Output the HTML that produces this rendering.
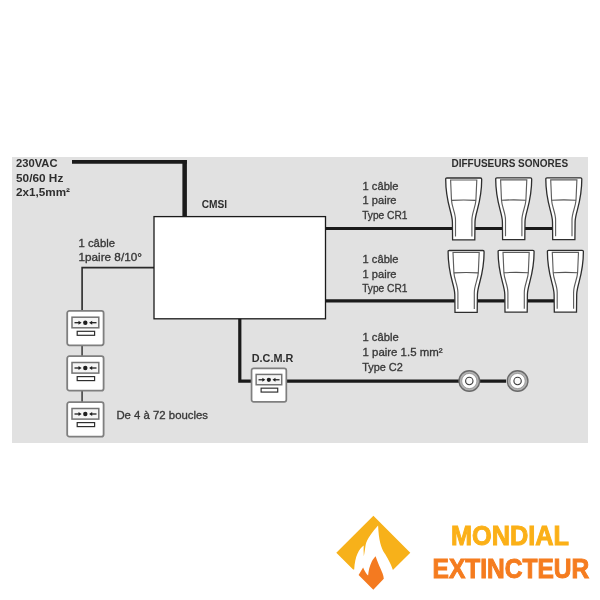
<!DOCTYPE html>
<html><head><meta charset="utf-8">
<style>
html,body{margin:0;padding:0;background:#fff;width:600px;height:600px;overflow:hidden}
svg{display:block;will-change:transform}
text{font-family:"Liberation Sans",sans-serif}
.b{font-weight:bold;font-size:11.8px;fill:#2e2e2e}
.r{font-size:11px;fill:#383838;stroke:#383838;stroke-width:0.32px}
.lg{font-weight:bold;font-size:27.5px}
</style></head><body>
<svg width="600" height="600" viewBox="0 0 600 600">
<defs>
  <g id="spk">
    <path d="M-16.8,0 L16.8,0 Q18,0 18,1.2 C18,25 11.5,34 11.3,44 L11.1,61.8 L-11.1,61.8 L-11.3,44 C-11.5,34 -18,25 -18,1.2 Q-18,0 -16.8,0 Z" fill="#fff" stroke="#2e2e2e" stroke-width="1.3"/>
    <path d="M-8.2,58.4 L-8.2,42 C-8.2,35 -11.8,29 -12.2,22.4 L-13.1,2 L13.1,2 L12.2,22.4 C11.8,29 8.2,35 8.2,42 L8.2,58.4" fill="none" stroke="#5e5e5e" stroke-width="1.15"/>
    <path d="M-12.2,22.4 Q0,21.5 12.2,22.4" fill="none" stroke="#555" stroke-width="1.1"/>
  </g>
  <g id="dev">
    <rect x="0.9" y="0.9" width="36.4" height="34.4" rx="2.2" fill="#fff" stroke="#7f7f7f" stroke-width="1.8"/>
    <rect x="5.7" y="7.2" width="26.8" height="10.6" fill="#f5f5f5" stroke="#737373" stroke-width="1.5"/>
    <line x1="8.2" y1="12.7" x2="13.5" y2="12.7" stroke="#1e1e1e" stroke-width="1.3"/>
    <path d="M15.3,12.7 L12.2,10.7 L12.2,14.7 Z" fill="#1e1e1e"/>
    <circle cx="19" cy="12.7" r="2.2" fill="#1e1e1e"/>
    <line x1="24.6" y1="12.7" x2="30.2" y2="12.7" stroke="#1e1e1e" stroke-width="1.3"/>
    <path d="M22.8,12.7 L25.9,10.7 L25.9,14.7 Z" fill="#1e1e1e"/>
    <rect x="10.9" y="21.3" width="17.4" height="4" fill="#fff" stroke="#2e2e2e" stroke-width="1.2"/>
  </g>
  <g id="ring">
    <circle r="10.3" fill="#b2b2b2" stroke="#6a6a6a" stroke-width="1.4"/>
    <circle r="7.6" fill="#fff" stroke="#8a8a8a" stroke-width="0.7"/>
    <circle r="3.7" fill="#fafafa" stroke="#3c3c3c" stroke-width="1.1"/>
  </g>
</defs>

<!-- gray background -->
<rect x="12" y="157" width="576" height="286" fill="#e1e1e1"/>

<!-- thick power line -->
<path d="M72,161.9 L186.8,161.9" fill="none" stroke="#1a1a1a" stroke-width="3.6"/>
<rect x="182.4" y="160.1" width="4.5" height="56.5" fill="#1a1a1a"/>

<!-- loop line -->
<path d="M82.1,310 L82.1,267.6 L154,267.6" fill="none" stroke="#2a2a2a" stroke-width="1.6"/>
<line x1="82.1" y1="345" x2="82.1" y2="356" stroke="#555" stroke-width="1.8"/>
<line x1="82.1" y1="390" x2="82.1" y2="402" stroke="#555" stroke-width="1.8"/>

<!-- speaker lines -->
<line x1="326" y1="228.5" x2="552" y2="228.5" stroke="#1a1a1a" stroke-width="3.2"/>
<line x1="326" y1="300.9" x2="554" y2="300.9" stroke="#1a1a1a" stroke-width="3.2"/>

<!-- DCMR line -->
<path d="M239.8,318 L239.8,381.1 L506,381.1" fill="none" stroke="#1a1a1a" stroke-width="3.2"/>

<!-- CMSI box -->
<rect x="154" y="216.6" width="171.5" height="102.2" fill="#fff" stroke="#1a1a1a" stroke-width="1.3"/>

<!-- speakers -->
<use href="#spk" x="463.7" y="178"/>
<use href="#spk" x="513.7" y="177.9"/>
<use href="#spk" x="563.8" y="177.9"/>
<use href="#spk" x="466.1" y="250.5"/>
<use href="#spk" x="516.1" y="250.4"/>
<use href="#spk" x="565.4" y="250.4"/>

<!-- devices -->
<use href="#dev" x="66.3" y="310"/>
<use href="#dev" x="66.3" y="355.3"/>
<use href="#dev" x="66.3" y="401.3"/>
<use href="#dev" transform="translate(250.7,367.4) scale(0.955,0.975)"/>

<!-- rings -->
<use href="#ring" x="469.3" y="381"/>
<use href="#ring" x="517.6" y="381"/>

<!-- texts -->
<text class="b" x="16" y="166.7" textLength="41.5" lengthAdjust="spacingAndGlyphs">230VAC</text>
<text class="b" x="16" y="181.6" textLength="47.3" lengthAdjust="spacingAndGlyphs">50/60 Hz</text>
<text class="b" x="16" y="195.5" textLength="54" lengthAdjust="spacingAndGlyphs">2x1,5mm²</text>
<text class="b" x="201.7" y="208.4" textLength="25.4" lengthAdjust="spacingAndGlyphs">CMSI</text>
<text class="b" x="451.5" y="166.9" textLength="116.6" lengthAdjust="spacingAndGlyphs">DIFFUSEURS SONORES</text>
<text class="b" x="251.7" y="361.6" textLength="41.6" lengthAdjust="spacingAndGlyphs">D.C.M.R</text>

<text class="r" x="78.5" y="246.6" textLength="36.5" lengthAdjust="spacingAndGlyphs">1 câble</text>
<text class="r" x="78.5" y="261.2" textLength="63.4" lengthAdjust="spacingAndGlyphs">1paire 8/10°</text>

<text class="r" x="362.6" y="189.8" textLength="35.9" lengthAdjust="spacingAndGlyphs">1 câble</text>
<text class="r" x="362.6" y="204.1" textLength="33.9" lengthAdjust="spacingAndGlyphs">1 paire</text>
<text class="r" x="362.2" y="218.7" textLength="45.3" lengthAdjust="spacingAndGlyphs">Type CR1</text>

<text class="r" x="362.6" y="263.2" textLength="35.9" lengthAdjust="spacingAndGlyphs">1 câble</text>
<text class="r" x="362.6" y="277.6" textLength="33.9" lengthAdjust="spacingAndGlyphs">1 paire</text>
<text class="r" x="362.2" y="292" textLength="45.3" lengthAdjust="spacingAndGlyphs">Type CR1</text>

<text class="r" x="362.5" y="341.2" textLength="36.2" lengthAdjust="spacingAndGlyphs">1 câble</text>
<text class="r" x="362.5" y="356.4" textLength="80" lengthAdjust="spacingAndGlyphs">1 paire 1.5 mm²</text>
<text class="r" x="362.2" y="371.2" textLength="40.6" lengthAdjust="spacingAndGlyphs">Type C2</text>

<text class="r" x="116.4" y="419.4" textLength="91.6" lengthAdjust="spacingAndGlyphs">De 4 à 72 boucles</text>

<!-- logo -->
<path d="M336.3,552.75 L373.4,515.7 L410.3,552.75 L392.9,570.1 C391,564 387,557 384.4,553.1 C381,548 378.7,540 378.1,525.6 C373,531 367,539 365.6,545 C365,549 364.5,553 363.8,556.3 L363.6,550 L363.7,545.6 C359,549 355,556 354.2,569.5 L353.1,569.5 Z" fill="#f7b11a"/>
<path d="M375.6,556.2 C377,560 378.5,564 380.6,568.8 C382,572 383.5,575 383.8,578.8 L373.3,589.7 L358.6,575 L363.1,567.4 C364.5,571 366.5,574 368.1,575.6 C368.5,571 369.5,566 371.9,561.2 C373,559 374.5,557.5 375.6,556.2 Z" fill="#f47a20"/>

<text class="lg" x="451" y="544.8" fill="#fbb017" stroke="#fbb017" stroke-width="1" textLength="118" lengthAdjust="spacingAndGlyphs">MONDIAL</text>
<text class="lg" x="432.6" y="577.9" fill="#f57c1f" stroke="#f57c1f" stroke-width="1" textLength="156.6" lengthAdjust="spacingAndGlyphs">EXTINCTEUR</text>
</svg>
</body></html>
